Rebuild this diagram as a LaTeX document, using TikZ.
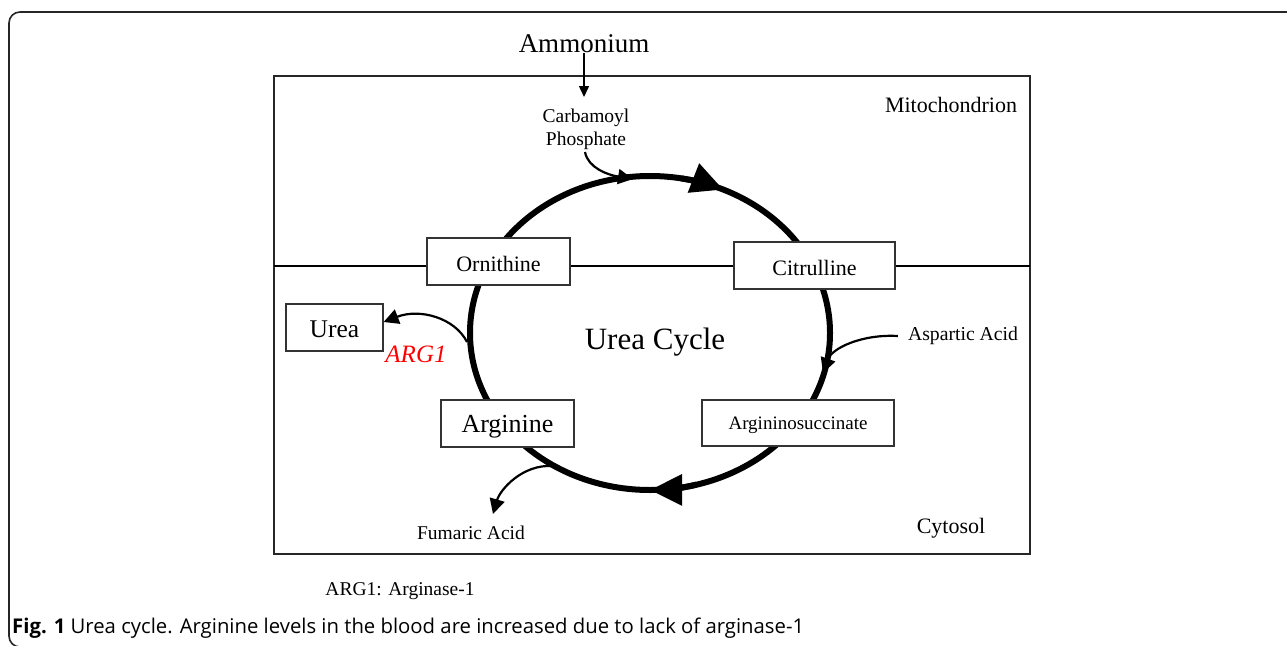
\documentclass[tikz,border=0pt]{standalone}
\usepackage{fontspec}
\setmainfont{Liberation Serif}
\newfontfamily\capfont{Open Sans}
\usetikzlibrary{arrows.meta}
\newcommand{\fs}[1]{\fontsize{#1}{#1}\selectfont}
\newcommand{\dropby}[2]{\raisebox{-#1}[\height][\depth]{#2}}
\begin{document}
\begin{tikzpicture}[x=1pt,y=-1pt,
  frame/.style={draw=black!85, line width=1.6pt},
  box/.style={draw=black!80, line width=1.2pt, fill=white, inner sep=0pt, minimum height=47pt},
  lbl/.style={inner sep=0pt, align=center},
  cyc/.style={line width=6pt},
  thinarr/.style={line width=2.2pt, -{Triangle[length=15pt,width=15pt]}},
  bigarr/.style={line width=6pt, -{Triangle[length=32pt,width=30pt]}}
]
\useasboundingbox (0,0) rectangle (1287,645);
% outer frame
\draw[frame, rounded corners=11pt] (1288,12) -- (9,12) -- (9,647) -- (40,647);
% inner box
\draw[frame, line width=1.5pt] (274,76) rectangle (1030,554);
\draw[line width=1.5pt] (274,266) -- (1030,266);
% cycle
\coordinate (c) at (650,333);
\draw[cyc] (c) ellipse[x radius=180, y radius=157];
\draw[bigarr] (650+31.3,333-154.6) arc[start angle=280, end angle=294, x radius=180, y radius=157];
\draw[bigarr] (650+46.6,333+151.6) arc[start angle=75, end angle=90, x radius=180, y radius=157];
% labels
\node[lbl] (amm) at (584,44) {\fs{27}Ammonium};
\node[lbl] (carb) at (586,129) {\fs{19.5}Carbamoyl\\[4pt]\fs{19.5}Phosphate};
\node[lbl] (mito) at (951,105) {\fs{22}Mitochondrion};
\node[lbl] (cycle) at (655,342) {\fs{31}Urea Cycle};
\node[lbl] (asp) at (963,336) {\fs{19.7}Aspartic Acid};
\node[lbl, text=red] (arg1) at (416,354) {\fs{25}\itshape ARG1};
\node[lbl] (fum) at (471,533) {\fs{19.5}Fumaric Acid};
\node[lbl] (cyt) at (951,528) {\fs{22}Cytosol};
\node[lbl] (legend) at (400,591) {\fs{19.5}ARG1: Arginase-1};
\node[lbl, anchor=west] (cap) at (12,628) {\capfont\fs{20.3}\textbf{Fig. 1} Urea cycle. Arginine levels in the blood are increased due to lack of arginase-1};
% connectors
\coordinate (ammEnd) at (584,97);
\draw[line width=1.5pt, -{Triangle[length=11pt,width=10pt]}] (amm.south) -- (ammEnd);
\coordinate (carbEnd) at (633,179);
\draw[thinarr] (585,152) .. controls (588,168) and (608,175) .. (carbEnd);
\coordinate (aspEnd) at (823,373);
\draw[thinarr] ([xshift=-10pt]asp.west) .. controls (862,334) and (832,348) .. (aspEnd);
\coordinate (argStart) at (467,342);
% boxes
\node[box, minimum width=143pt] (orn) at (498.5,261.5) {\fs{22}\dropby{2pt}{Ornithine}};
\node[box, minimum width=161pt] (cit) at (814.5,265.5) {\fs{22}\dropby{2pt}{Citrulline}};
\node[box, minimum width=192pt, minimum height=46pt] (asa) at (798,423) {\fs{19}\dropby{2pt}{Argininosuccinate}};
\node[box, minimum width=133pt] (argn) at (507.5,423.5) {\fs{26}\dropby{3pt}{Arginine}};
\node[box, minimum width=97pt] (urea) at (334.5,327.5) {\fs{25.5}\dropby{2pt}{Urea}};
\draw[thinarr] (argStart) .. controls (455,318) and (420,308) .. (urea.east |- 0,322);
\coordinate (fumStart) at (553,466);
\coordinate (fumEnd) at (493,514);
\draw[thinarr] (fumStart) .. controls (522,464) and (500,490) .. (fumEnd);
\end{tikzpicture}
\end{document}
